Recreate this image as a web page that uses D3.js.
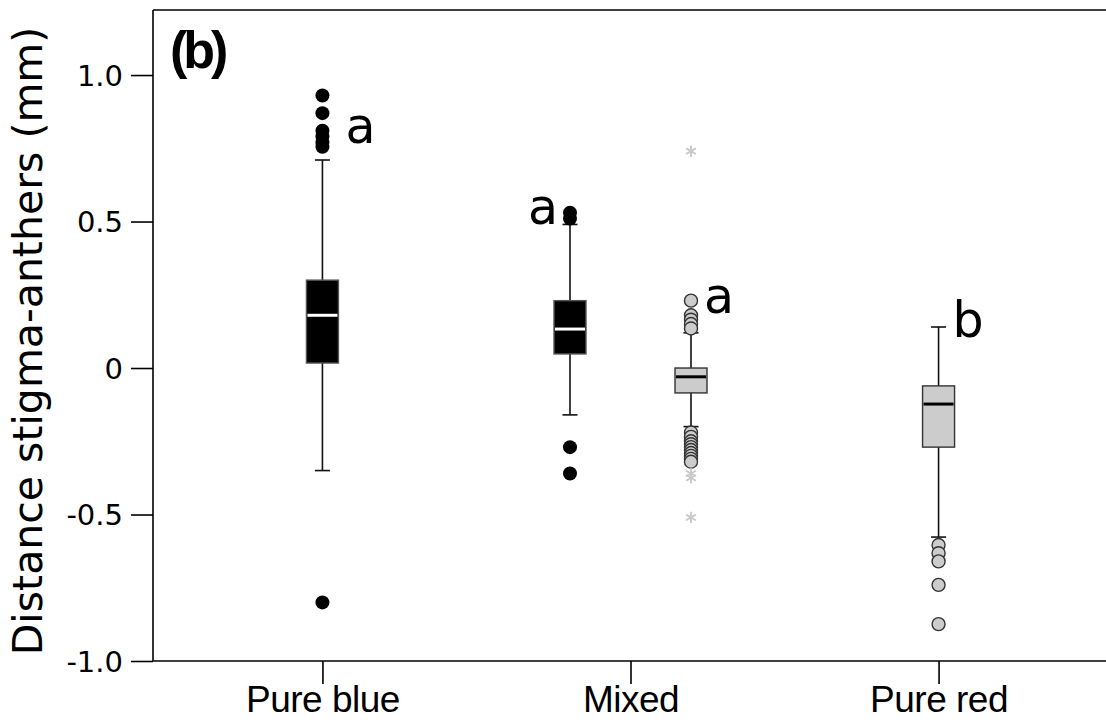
<!DOCTYPE html>
<html>
<head>
<meta charset="utf-8">
<script src="https://cdn.jsdelivr.net/npm/d3@7"></script>
<style>
  body { margin: 0; background: #fff; }
  svg { display: block; }
</style>
</head>
<body>
<script>
// categories on the x axis
const categories = ["Pure blue", "Mixed", "Pure red"];

// one entry per box
const boxCategory = ["Pure blue", "Mixed", "Mixed", "Pure red"];
const boxMorph = ["blue", "blue", "red", "red"];
const whiskerLow = [-0.35, -0.16, -0.20, -0.577];
const q1 = [0.017, 0.048, -0.085, -0.27];
const median = [0.18, 0.133, -0.03, -0.123];
const q3 = [0.30, 0.23, 0.0, -0.061];
const whiskerHigh = [0.71, 0.49, 0.12, 0.14];
const outliers = [
  [0.93, 0.87, 0.81, 0.79, 0.77, 0.755, -0.80],
  [0.53, 0.51, -0.27, -0.36],
  [0.23, 0.18, 0.165, 0.15, 0.135, -0.22, -0.235, -0.25, -0.26, -0.27, -0.28, -0.29, -0.30, -0.31, -0.32],
  [-0.604, -0.632, -0.66, -0.74, -0.874]
];
const extremes = [[], [], [0.74, -0.36, -0.375, -0.51], []];
const letters = ["a", "a", "a", "b"];

const yTicks = [-1.0, -0.5, 0, 0.5, 1.0];
const yTickLabels = ["-1.0", "-0.5", "0", "0.5", "1.0"];

const W = 1106, H = 724;
const plotLeft = 153, plotTop = 10, plotBottom = 661;

const svg = d3.select("body").append("svg")
  .attr("width", W)
  .attr("height", H);

const y = d3.scaleLinear().domain([-1, 1.222]).range([plotBottom, plotTop]);
const x = d3.scalePoint().domain(categories).range([plotLeft, 1108]).padding(0.55);
const xMorph = d3.scaleBand().domain(["blue", "red"]).range([-121, 121]);

// centre of a box: a single box sits on its category, two share it
const boxX = (i) => {
  let n = boxCategory.filter(c => c === boxCategory[i]).length;
  let cx = x(boxCategory[i]);
  if (n > 1) cx += xMorph(boxMorph[i]) + xMorph.bandwidth() / 2;
  return cx;
};

const boxW = 32, capW = 15;

// axes
const yAxis = d3.axisLeft(y)
  .tickValues(yTicks)
  .tickFormat((d, i) => yTickLabels[i])
  .tickSize(22)
  .tickPadding(8);

const gy = svg.append("g")
  .attr("transform", "translate(" + plotLeft + ",0)")
  .call(yAxis);
gy.select(".domain").attr("stroke", "#000").attr("stroke-width", 1.6).attr("d", "M0," + plotTop + "V" + plotBottom);
gy.selectAll(".tick line").attr("stroke", "#000").attr("stroke-width", 1.6);
gy.selectAll(".tick text")
  .attr("fill", "#000")
  .style("font-family", "DejaVu Sans")
  .style("font-size", "29px")
  .attr("dy", "0.36em");

const xAxis = d3.axisBottom(x).tickSize(23).tickPadding(2);
const gx = svg.append("g")
  .attr("transform", "translate(0," + plotBottom + ")")
  .call(xAxis);
gx.select(".domain").attr("stroke", "#000").attr("stroke-width", 1.6).attr("d", "M" + plotLeft + ",0H" + W);
gx.selectAll(".tick line").attr("stroke", "#000").attr("stroke-width", 1.6);
gx.selectAll(".tick text")
  .attr("fill", "#000")
  .style("font-family", "Liberation Sans")
  .style("font-size", "37px")
  .style("letter-spacing", "-0.5px")
  .attr("dy", "0.71em");

// top frame line
svg.append("line")
  .attr("x1", plotLeft).attr("x2", W)
  .attr("y1", plotTop).attr("y2", plotTop)
  .attr("stroke", "#000").attr("stroke-width", 1.6);

// y title
svg.append("text")
  .attr("transform", "translate(42,341) rotate(-90)")
  .attr("text-anchor", "middle")
  .style("font-family", "DejaVu Sans")
  .style("font-size", "41px")
  .text("Distance stigma-anthers (mm)");

// panel tag
svg.append("text")
  .attr("x", 170).attr("y", 68)
  .style("font-family", "Liberation Sans")
  .style("font-weight", "bold")
  .style("font-size", "52px")
  .style("letter-spacing", "-4px")
  .text("(b)");

const idx = d3.range(boxCategory.length);
const fillOf = (i) => boxMorph[i] === "blue" ? "#000" : "#cccccc";

const boxes = svg.append("g").selectAll("g").data(idx).join("g");

// whiskers
boxes.append("line")
  .attr("x1", boxX).attr("x2", boxX)
  .attr("y1", i => y(whiskerLow[i])).attr("y2", i => y(whiskerHigh[i]))
  .attr("stroke", "#111").attr("stroke-width", 1.6);

boxes.selectAll(".cap")
  .data(i => [[i, whiskerLow[i]], [i, whiskerHigh[i]]])
  .join("line")
  .attr("class", "cap")
  .attr("x1", d => boxX(d[0]) - capW / 2).attr("x2", d => boxX(d[0]) + capW / 2)
  .attr("y1", d => y(d[1])).attr("y2", d => y(d[1]))
  .attr("stroke", "#111").attr("stroke-width", 1.6);

// box
boxes.append("rect")
  .attr("x", i => boxX(i) - boxW / 2)
  .attr("width", boxW)
  .attr("y", i => y(q3[i]))
  .attr("height", i => y(q1[i]) - y(q3[i]))
  .attr("fill", fillOf)
  .attr("stroke", i => boxMorph[i] === "blue" ? "#555" : "#333")
  .attr("stroke-width", 1.4);

// median
boxes.append("line")
  .attr("x1", i => boxX(i) - boxW / 2 + 1).attr("x2", i => boxX(i) + boxW / 2 - 1)
  .attr("y1", i => y(median[i])).attr("y2", i => y(median[i]))
  .attr("stroke", i => boxMorph[i] === "blue" ? "#fff" : "#000")
  .attr("stroke-width", 3);

// outliers
boxes.selectAll(".out")
  .data(i => outliers[i].map(v => [i, v]))
  .join("circle")
  .attr("class", "out")
  .attr("cx", d => boxX(d[0]))
  .attr("cy", d => y(d[1]))
  .attr("r", d => boxMorph[d[0]] === "blue" ? 7 : 6.5)
  .attr("fill", d => fillOf(d[0]))
  .attr("stroke", d => boxMorph[d[0]] === "blue" ? "none" : "#333")
  .attr("stroke-width", 1.4);

// extreme values
boxes.selectAll(".ext")
  .data(i => extremes[i].map(v => [i, v]))
  .join("path")
  .attr("class", "ext")
  .attr("transform", d => "translate(" + boxX(d[0]) + "," + y(d[1]) + ")")
  .attr("d", d3.symbol(d3.symbolAsterisk, 90))
  .attr("fill", "none")
  .attr("stroke", "#c8c8c8")
  .attr("stroke-width", 1.8);

// significance letters, placed near the top mark of each box
const letterPlace = [
  { dx: 23, dy: 47, anchor: "start" },
  { dx: -12, dy: 11, anchor: "end" },
  { dx: 13, dy: 12, anchor: "start" },
  { dx: 14, dy: 10, anchor: "start" }
];
const topOf = (i) => d3.max(outliers[i].concat(extremes[i].filter(v => v < 0.5), [whiskerHigh[i]]));

boxes.append("text")
  .attr("x", i => boxX(i) + letterPlace[i].dx)
  .attr("y", i => y(topOf(i)) + letterPlace[i].dy)
  .attr("text-anchor", i => letterPlace[i].anchor)
  .style("font-family", "DejaVu Sans")
  .style("font-size", "49px")
  .text(i => letters[i]);
</script>
</body>
</html>
